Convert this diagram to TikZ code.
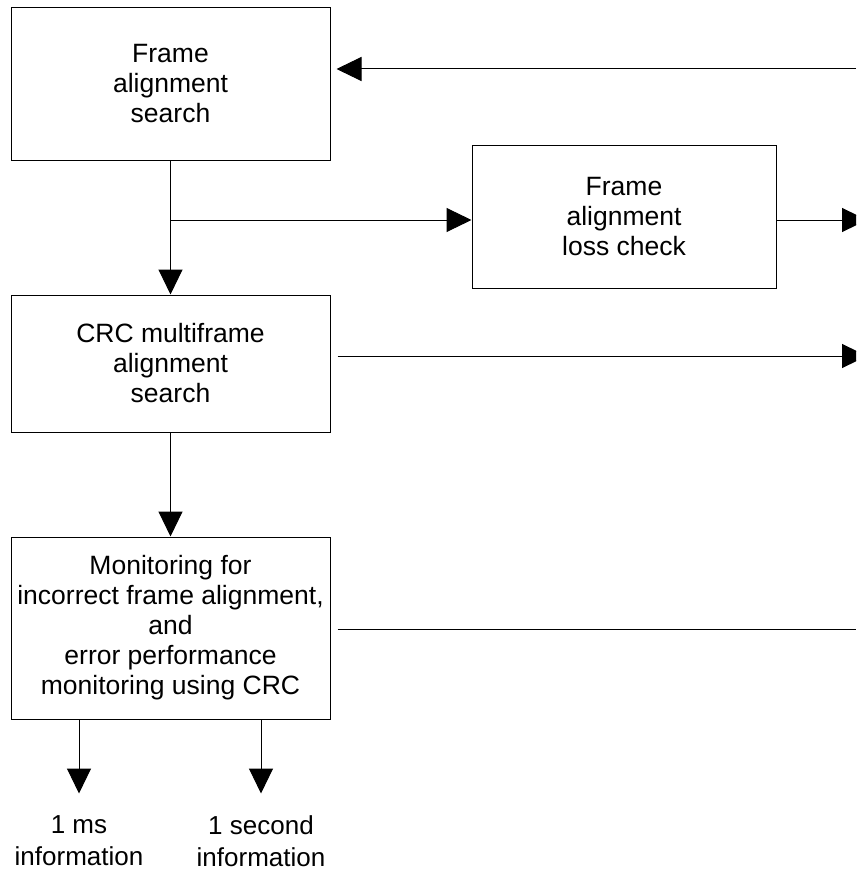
\documentclass[tikz,border=0pt]{standalone}
\usepackage{fontspec}
\setmainfont{Liberation Sans}
\usetikzlibrary{arrows.meta,calc}
\begin{document}
\begin{tikzpicture}[x=1pt,y=-1pt,
  box/.style={draw,line width=1pt,align=center,inner sep=0pt,font=\fontsize{26.5}{30}\selectfont},
  arr/.style={line width=1pt,-{Triangle[length=25pt,width=24pt]}},
  ln/.style={line width=1pt},
  lbl/.style={align=center,inner sep=0pt,font=\fontsize{26}{32}\selectfont}]
\useasboundingbox (0,0) rectangle (856,872);
\clip (0,0) rectangle (856,872);
\node[box,minimum width=319pt,minimum height=152pt] (fas) at (170.5,84) {Frame\\alignment\\search};
\node[box,minimum width=304pt,minimum height=143pt] (lc) at (624,216.5) {Frame\\alignment\\loss check};
\node[box,minimum width=319pt,minimum height=137pt] (crc) at (170.5,363.5) {CRC multiframe\\alignment\\search};
\node[box,minimum width=319pt,minimum height=182pt] (mon) at (170.5,628) {Monitoring for\\incorrect frame alignment,\\and\\error performance\\monitoring using CRC};
\node[lbl] (ms) at (79,841) {1 ms\\information};
\node[lbl] (sec) at (261,841) {1 second\\information};
\coordinate (br) at (170.5,220);
\coordinate (t1) at (856,69);
\coordinate (o1) at (867,220);
\coordinate (o2) at (867,356);
\coordinate (o3) at (856,629);
\draw[arr] (fas) -- (crc);
\draw[arr] (crc) -- (mon);
\draw[arr] (br) -- (br -| lc.west);
\draw[arr] (lc.east |- o1) -- (o1);
\draw[arr,shorten >=6pt] (t1) -- (t1 -| fas.east);
\draw[arr,shorten <=7pt] (crc.east |- o2) -- (o2);
\draw[ln,shorten <=7pt] (mon.east |- o3) -- (o3);
\draw[arr] (mon.south -| ms) -- ++(0,74);
\draw[arr] (mon.south -| sec) -- ++(0,74);
\end{tikzpicture}
\end{document}
